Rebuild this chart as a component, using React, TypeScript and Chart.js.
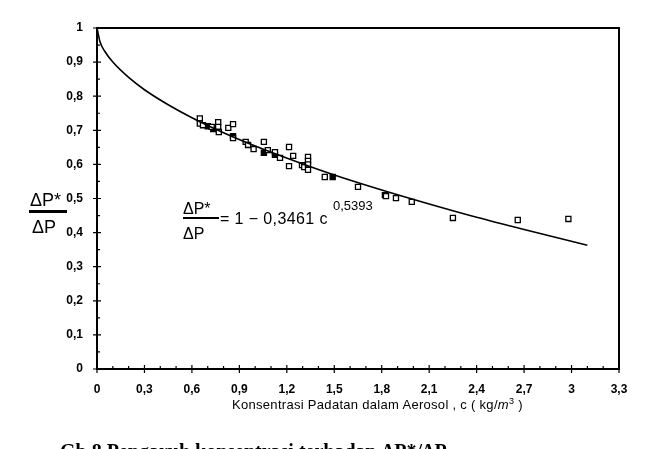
import React, { useEffect, useRef } from "react";
import { Chart, registerables } from "chart.js";

Chart.register(...registerables);

// ---- data ----
const xTickValues = [0, 0.3, 0.6, 0.9, 1.2, 1.5, 1.8, 2.1, 2.4, 2.7, 3.0, 3.3];
const xTickLabels = ["0", "0,3", "0,6", "0,9", "1,2", "1,5", "1,8", "2,1", "2,4", "2,7", "3", "3,3"];
const yTickValues = [0, 0.1, 0.2, 0.3, 0.4, 0.5, 0.6, 0.7, 0.8, 0.9, 1];
const yTickLabels = ["0", "0,1", "0,2", "0,3", "0,4", "0,5", "0,6", "0,7", "0,8", "0,9", "1"];

// fitted curve
const curveC = [0, 0.02, 0.05, 0.1, 0.2, 0.3, 0.45, 0.6, 0.8, 1.0, 1.25, 1.5, 1.8, 2.1, 2.4, 2.7, 3.1];
const curveY = [1, 0.958, 0.931, 0.9, 0.855, 0.819, 0.775, 0.737, 0.693, 0.654, 0.61, 0.569, 0.525, 0.484, 0.445, 0.409, 0.363];

// measured points (open squares)
const openC = [0.65, 0.65, 0.67, 0.725, 0.766, 0.766, 0.77, 0.83, 0.86, 0.86, 0.94, 0.955, 0.99, 1.055, 1.08, 1.125, 1.157, 1.214, 1.24, 1.214, 1.296, 1.31, 1.334, 1.334, 1.334, 1.334, 1.44, 1.65, 1.827, 1.89, 1.99, 2.25, 2.66, 2.98];
const openY = [0.735, 0.72, 0.715, 0.71, 0.724, 0.71, 0.695, 0.707, 0.718, 0.677, 0.666, 0.657, 0.645, 0.666, 0.642, 0.636, 0.619, 0.651, 0.625, 0.595, 0.598, 0.592, 0.622, 0.61, 0.6, 0.584, 0.563, 0.534, 0.507, 0.501, 0.49, 0.443, 0.437, 0.44];

// overlapping points that print as solid
const filledC = [0.7, 0.735, 0.86, 1.055, 1.125, 1.49, 1.82];
const filledY = [0.712, 0.704, 0.683, 0.634, 0.628, 0.563, 0.51];

const FONT = "'Liberation Sans', Arial, sans-serif";

const framePlugin = {
  id: "frameTicks",
  afterDraw(chart: any) {
    const { ctx, chartArea } = chart;
    const xs = chart.scales.x;
    const ys = chart.scales.y;
    ctx.save();
    ctx.strokeStyle = "#000";
    ctx.lineWidth = 2;
    ctx.beginPath();
    ctx.moveTo(chartArea.left, chartArea.top);
    ctx.lineTo(chartArea.right, chartArea.top);
    ctx.lineTo(chartArea.right, chartArea.bottom);
    ctx.stroke();
    ctx.lineWidth = 1.2;
    ctx.beginPath();
    xTickValues.forEach((v) => {
      const p = xs.getPixelForValue(v);
      ctx.moveTo(p, chartArea.bottom - 4);
      ctx.lineTo(p, chartArea.bottom + 4);
    });
    for (let i = 0; i <= 33; i++) {
      if (i % 3 === 0) continue;
      const p = xs.getPixelForValue(i / 10);
      ctx.moveTo(p, chartArea.bottom - 3);
      ctx.lineTo(p, chartArea.bottom);
    }
    yTickValues.forEach((v) => {
      const p = ys.getPixelForValue(v);
      ctx.moveTo(chartArea.left - 4, p);
      ctx.lineTo(chartArea.left + 4, p);
    });
    for (let i = 1; i < 20; i += 2) {
      const p = ys.getPixelForValue(i / 20);
      ctx.moveTo(chartArea.left, p);
      ctx.lineTo(chartArea.left + 3, p);
    }
    ctx.stroke();
    ctx.restore();
  },
};

export default function App() {
  const ref = useRef<HTMLCanvasElement>(null);

  useEffect(() => {
    if (!ref.current) return;
    const chart = new Chart(ref.current, {
      type: "scatter",
      data: {
        datasets: [
          {
            type: "line",
            label: "fit",
            data: curveC.map((c, i) => ({ x: c, y: curveY[i] })),
            borderColor: "#000",
            borderWidth: 1.6,
            pointRadius: 0,
            cubicInterpolationMode: "monotone",
            fill: false,
          },
          {
            label: "open",
            data: openC.map((c, i) => ({ x: c, y: openY[i] })),
            pointStyle: "rect",
            pointRadius: 3.6,
            backgroundColor: "#fff",
            borderColor: "#000",
            borderWidth: 1.3,
          },
          {
            label: "filled",
            data: filledC.map((c, i) => ({ x: c, y: filledY[i] })),
            pointStyle: "rect",
            pointRadius: 3.6,
            backgroundColor: "#000",
            borderColor: "#000",
            borderWidth: 1.3,
          },
        ] as any,
      },
      options: {
        animation: false,
        responsive: false,
        events: [],
        layout: { padding: { top: 28, right: 29, left: 0, bottom: 0 } },
        plugins: { legend: { display: false }, tooltip: { enabled: false } },
        scales: {
          x: {
            type: "linear",
            min: 0,
            max: 3.3,
            afterBuildTicks: (s: any) => {
              s.ticks = xTickValues.map((v) => ({ value: v }));
            },
            afterFit: (s: any) => {
              s.height = 80;
            },
            grid: { display: false },
            border: { display: true, color: "#000", width: 2 },
            ticks: {
              padding: 5,
              color: "#000",
              maxRotation: 0,
              autoSkip: false,
              font: { family: FONT, size: 12, weight: "bold" },
              callback: (v: any) => {
                const i = xTickValues.findIndex((t) => Math.abs(t - v) < 1e-6);
                return i >= 0 ? xTickLabels[i] : "";
              },
            },
          },
          y: {
            type: "linear",
            min: 0,
            max: 1,
            afterBuildTicks: (s: any) => {
              s.ticks = yTickValues.map((v) => ({ value: v }));
            },
            afterFit: (s: any) => {
              s.width = 97;
            },
            grid: { display: false },
            border: { display: true, color: "#000", width: 2 },
            ticks: {
              padding: 6,
              color: "#000",
              autoSkip: false,
              font: { family: FONT, size: 12, weight: "bold" },
              callback: (v: any) => {
                const i = yTickValues.findIndex((t) => Math.abs(t - v) < 1e-6);
                return i >= 0 ? yTickLabels[i] : "";
              },
            },
          },
        },
      },
      plugins: [framePlugin],
    });
    return () => chart.destroy();
  }, []);

  const abs = (o: React.CSSProperties): React.CSSProperties => ({
    position: "absolute",
    fontFamily: FONT,
    color: "#000",
    whiteSpace: "nowrap",
    lineHeight: 1,
    ...o,
  });

  return (
    <div
      style={{
        position: "fixed",
        left: 0,
        top: 0,
        width: 648,
        height: 449,
        overflow: "hidden",
        background: "#fff",
      }}
    >
      <canvas ref={ref} width={648} height={449} style={{ position: "absolute", left: 0, top: 0 }} />
      {/* y-axis title as fraction */}
      <div style={abs({ left: 30, top: 191, fontSize: 18 })}>ΔP*</div>
      <div style={abs({ left: 29, top: 210, width: 38, height: 3, background: "#000" })} />
      <div style={abs({ left: 32, top: 218, fontSize: 18 })}>ΔP</div>
      {/* equation */}
      <div style={abs({ left: 183, top: 201, fontSize: 16 })}>ΔP*</div>
      <div style={abs({ left: 183, top: 217, width: 36, height: 1.5, background: "#000" })} />
      <div style={abs({ left: 183, top: 226, fontSize: 16 })}>ΔP</div>
      <div style={abs({ left: 220, top: 211, fontSize: 16, letterSpacing: 0.4 })}>= 1 − 0,3461 c</div>
      <div style={abs({ left: 333, top: 199, fontSize: 13 })}>0,5393</div>
      {/* x-axis title */}
      <div style={abs({ left: 232, top: 397, fontSize: 13, letterSpacing: 0.3 })}>
        Konsentrasi Padatan dalam Aerosol , c ( kg/<i>m</i>
        <sup style={{ fontSize: 9, verticalAlign: "5px" }}>3</sup> )
      </div>
      {/* caption (cut off by page edge) */}
      <div
        style={{
          position: "absolute",
          left: 60,
          top: 439,
          fontFamily: "'Liberation Serif', 'Times New Roman', serif",
          fontWeight: "bold",
          fontSize: 20,
          lineHeight: "24px",
          whiteSpace: "nowrap",
          color: "#000",
        }}
      >
        Gb.8 Pengaruh konsentrasi terhadap ΔP*/ΔP
      </div>
    </div>
  );
}
